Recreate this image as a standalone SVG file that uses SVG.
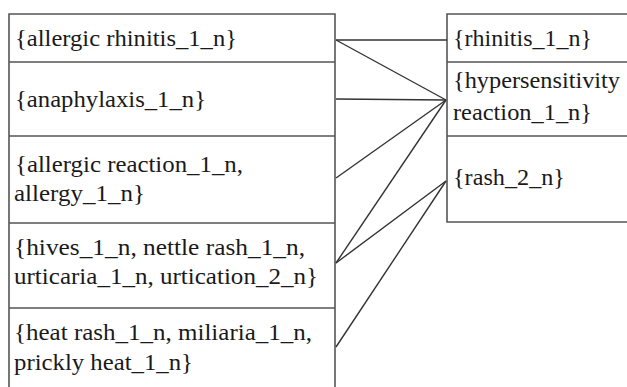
<svg xmlns="http://www.w3.org/2000/svg" width="627" height="387" viewBox="0 0 627 387">
<style>
.box{fill:none;stroke:#555;stroke-width:1.6}
.t{font-family:'Liberation Serif','DejaVu Serif',serif;font-size:23px;fill:#1a1a1a}
.c{stroke:#333;stroke-width:1.4;fill:none}
</style>
<rect width="627" height="387" fill="#fff"/>
<g id="left-table">
<path class="box" d="M9,390 V14 H335 V390"/>
<g id="n-allergic-rhinitis">
<line class="box" x1="9" y1="62" x2="335" y2="62"/>
<text class="t" x="15" y="46" textLength="222" lengthAdjust="spacingAndGlyphs">{allergic rhinitis_1_n}</text>
</g>
<g id="n-anaphylaxis">
<line class="box" x1="9" y1="136" x2="335" y2="136"/>
<text class="t" x="15" y="107" textLength="191" lengthAdjust="spacingAndGlyphs">{anaphylaxis_1_n}</text>
</g>
<g id="n-allergic-reaction">
<line class="box" x1="9" y1="223" x2="335" y2="223"/>
<text class="t" x="15" y="172" textLength="228" lengthAdjust="spacingAndGlyphs">{allergic reaction_1_n,</text>
<text class="t" x="14" y="201" textLength="131" lengthAdjust="spacingAndGlyphs">allergy_1_n}</text>
</g>
<g id="n-hives">
<line class="box" x1="9" y1="308" x2="335" y2="308"/>
<text class="t" x="14" y="255" textLength="291" lengthAdjust="spacingAndGlyphs">{hives_1_n, nettle rash_1_n,</text>
<text class="t" x="14" y="284" textLength="304" lengthAdjust="spacingAndGlyphs">urticaria_1_n, urtication_2_n}</text>
</g>
<g id="n-heat-rash">
<text class="t" x="14" y="340" textLength="298" lengthAdjust="spacingAndGlyphs">{heat rash_1_n, miliaria_1_n,</text>
<text class="t" x="14" y="370" textLength="179" lengthAdjust="spacingAndGlyphs">prickly heat_1_n}</text>
</g>
</g>
<g id="right-table">
<path class="box" d="M630,14 H447 V222 H630"/>
<g id="n-rhinitis">
<line class="box" x1="447" y1="62" x2="630" y2="62"/>
<text class="t" x="453" y="46" textLength="139" lengthAdjust="spacingAndGlyphs">{rhinitis_1_n}</text>
</g>
<g id="n-hypersensitivity">
<line class="box" x1="447" y1="136" x2="630" y2="136"/>
<text class="t" x="453" y="88" textLength="167" lengthAdjust="spacingAndGlyphs">{hypersensitivity</text>
<text class="t" x="453" y="120" textLength="139" lengthAdjust="spacingAndGlyphs">reaction_1_n}</text>
</g>
<g id="n-rash">
<text class="t" x="453" y="185" textLength="112" lengthAdjust="spacingAndGlyphs">{rash_2_n}</text>
</g>
</g>
<g id="connectors">
<line class="c" x1="336" y1="40" x2="447" y2="40"/>
<line class="c" x1="336" y1="40" x2="446" y2="100"/>
<line class="c" x1="336" y1="99" x2="446" y2="100"/>
<line class="c" x1="336" y1="178" x2="446" y2="100"/>
<line class="c" x1="336" y1="263" x2="446" y2="100"/>
<line class="c" x1="336" y1="263" x2="446" y2="181"/>
<line class="c" x1="336" y1="347" x2="446" y2="181"/>
</g>
</svg>
